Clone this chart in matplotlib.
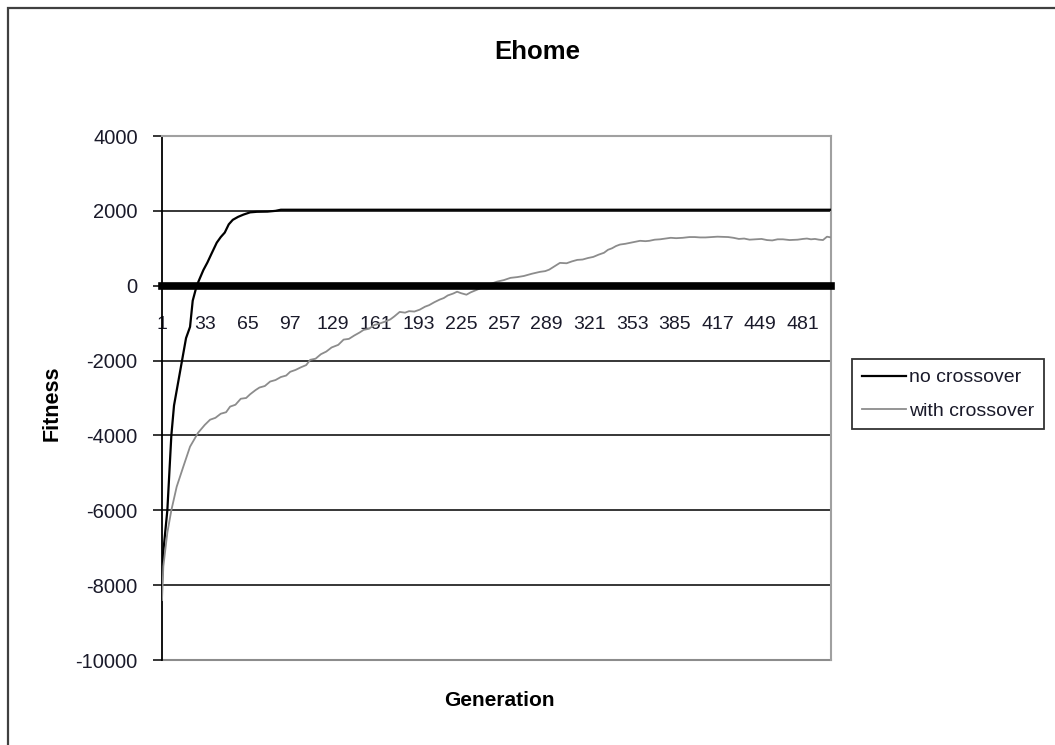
import matplotlib
matplotlib.use("Agg")
import matplotlib.pyplot as plt
from matplotlib.patches import Rectangle

plt.rcParams['font.family'] = ['Liberation Sans', 'DejaVu Sans']

# ---- data -------------------------------------------------------------
title = "Ehome"
x_label = "Generation"
y_label = "Fitness"
series_names = ["no crossover", "with crossover"]

y_ticks = [4000, 2000, 0, -2000, -4000, -6000, -8000, -10000]
x_ticks = [1, 33, 65, 97, 129, 161, 193, 225, 257, 289, 321, 353, 385, 417, 449, 481]
n_generations = 502

gen_no_cross = [1, 2, 5, 8, 10, 13, 16, 19, 22, 24, 27, 29, 32, 35, 38, 42, 45,
                48, 51, 54, 58, 62, 67, 72, 80, 86, 90, 150, 250, 350, 450, 502]
fit_no_cross = [-7900, -7100, -6000, -4000, -3200, -2600, -2000, -1400, -1100,
                -400, 0, 170, 420, 620, 850, 1150, 1300, 1420, 1640, 1760, 1840,
                1900, 1960, 1975, 1980, 2000, 2030, 2030, 2030, 2030, 2030, 2030]

gen_with_cross = [
    1, 2, 5, 8, 12, 17, 22, 28, 33, 37,
    41, 45, 49, 52, 56, 60, 64, 67, 71, 74,
    78, 82, 86, 90, 94, 97, 101, 105, 109, 112,
    116, 120, 124, 128, 133, 137, 141, 145, 149, 152,
    156, 160, 164, 168, 172, 175, 179, 183, 186, 190,
    194, 198, 201, 205, 209, 212, 215, 219, 222, 225,
    229, 232, 236, 240, 244, 248, 252, 257, 262, 267,
    272, 278, 284, 288, 291, 295, 299, 304, 308, 312,
    316, 320, 324, 328, 332, 335, 338, 341, 344, 348,
    352, 356, 359, 363, 366, 370, 374, 378, 382, 386,
    391, 396, 400, 404, 408, 412, 417, 421, 425, 429,
    433, 437, 441, 446, 450, 454, 458, 462, 466, 471,
    477, 481, 484, 487, 490, 493, 496, 499, 502]
fit_with_cross = [
    -8400, -7500, -6600, -6000, -5370, -4830, -4300, -3930, -3720, -3580,
    -3530, -3420, -3380, -3230, -3180, -3020, -3000, -2900, -2790, -2720,
    -2680, -2560, -2520, -2440, -2400, -2300, -2250, -2180, -2120, -1980,
    -1950, -1830, -1760, -1650, -1580, -1440, -1420, -1330, -1250, -1180,
    -1150, -1050, -1010, -960, -900, -820, -700, -720, -680, -690,
    -640, -560, -520, -440, -370, -330, -260, -210, -160, -200,
    -240, -180, -120, -60, 27, 60, 110, 150, 210, 230,
    260, 320, 370, 390, 430, 520, 610, 600, 650, 690,
    700, 740, 770, 830, 880, 960, 1000, 1060, 1100, 1120,
    1150, 1180, 1200, 1190, 1200, 1230, 1240, 1260, 1280, 1270,
    1280, 1300, 1300, 1290, 1290, 1300, 1310, 1305, 1300, 1280,
    1250, 1260, 1230, 1240, 1250, 1220, 1210, 1240, 1240, 1220,
    1230, 1250, 1260, 1240, 1250, 1230, 1220, 1310, 1290]

# ---- figure -----------------------------------------------------------
W, H = 1055, 745
fig = plt.figure(figsize=(W / 100, H / 100), dpi=100)
fig.patch.set_facecolor("white")

left, right, top, bottom = 162, 831, 136, 660
ax = fig.add_axes([left / W, 1 - bottom / H, (right - left) / W, (bottom - top) / H])

ax.set_xlim(1, n_generations)
ax.set_ylim(y_ticks[-1], y_ticks[0])

# horizontal gridlines between the frame edges
for v in y_ticks[1:-1]:
    if v != 0:
        ax.axhline(v, color="black", lw=1.1, zorder=1)
ax.axhline(y_ticks[-1], color="#8c8c8c", lw=1.5, zorder=1, clip_on=False)

ax.plot(gen_no_cross, fit_no_cross, color="black", lw=1.6, zorder=3,
        label=series_names[0])
ax.plot(gen_with_cross, fit_with_cross, color="#8c8c8c", lw=1.3, zorder=3,
        label=series_names[1])

# spines: black value axis, grey frame, thick category axis at zero
ax.spines["left"].set_color("black")
ax.spines["left"].set_linewidth(1.3)
ax.spines["top"].set_color("#a0a0a0")
ax.spines["top"].set_linewidth(1.5)
ax.spines["right"].set_color("#a0a0a0")
ax.spines["right"].set_linewidth(1.5)
ax.spines["bottom"].set_position(("data", 0))
ax.spines["bottom"].set_color("black")
ax.spines["bottom"].set_linewidth(5.5)
ax.spines["bottom"].set_zorder(4)

ax.set_yticks(y_ticks)
ax.set_yticklabels([str(v) for v in y_ticks])
ax.tick_params(axis="y", direction="out", length=6.5, width=1.1, color="black",
               pad=11, labelsize=14.5, labelcolor="#1a1a2a")

ax.set_xticks(x_ticks)
ax.set_xticklabels([str(v) for v in x_ticks])
ax.tick_params(axis="x", length=0, pad=22, labelsize=14, labelcolor="#1a1a2a")

# ---- text -------------------------------------------------------------
fig.text(537 / W, 1 - 52 / H, title, ha="center", va="center",
         fontsize=18.5, fontweight="bold")
fig.text(499 / W, 1 - 700 / H, x_label, ha="center", va="center",
         fontsize=15, fontweight="bold")
fig.text(52 / W, 1 - 403 / H, y_label, ha="center", va="center",
         rotation=90, fontsize=15.5, fontweight="bold")

# ---- legend -----------------------------------------------------------
leg = ax.legend(loc="upper left", bbox_to_anchor=(852 / W, 1 - 359 / H),
                bbox_transform=fig.transFigure, borderaxespad=0,
                fontsize=14, frameon=True, fancybox=False, shadow=False,
                handlelength=2.3, handletextpad=0.15, labelspacing=0.8,
                borderpad=0.5)
leg.get_frame().set_edgecolor("black")
leg.get_frame().set_linewidth(1.3)
for t in leg.get_texts():
    t.set_color("#1a1a2a")

# chart-area frame (left and top edges show)
frame = Rectangle((8 / W, -0.05), 1.1, 1 - 8 / H + 0.05, transform=fig.transFigure,
                  fill=False, edgecolor="#404040", lw=1.6, clip_on=False)
fig.add_artist(frame)

fig.savefig("out.png", dpi=100, facecolor="white")
